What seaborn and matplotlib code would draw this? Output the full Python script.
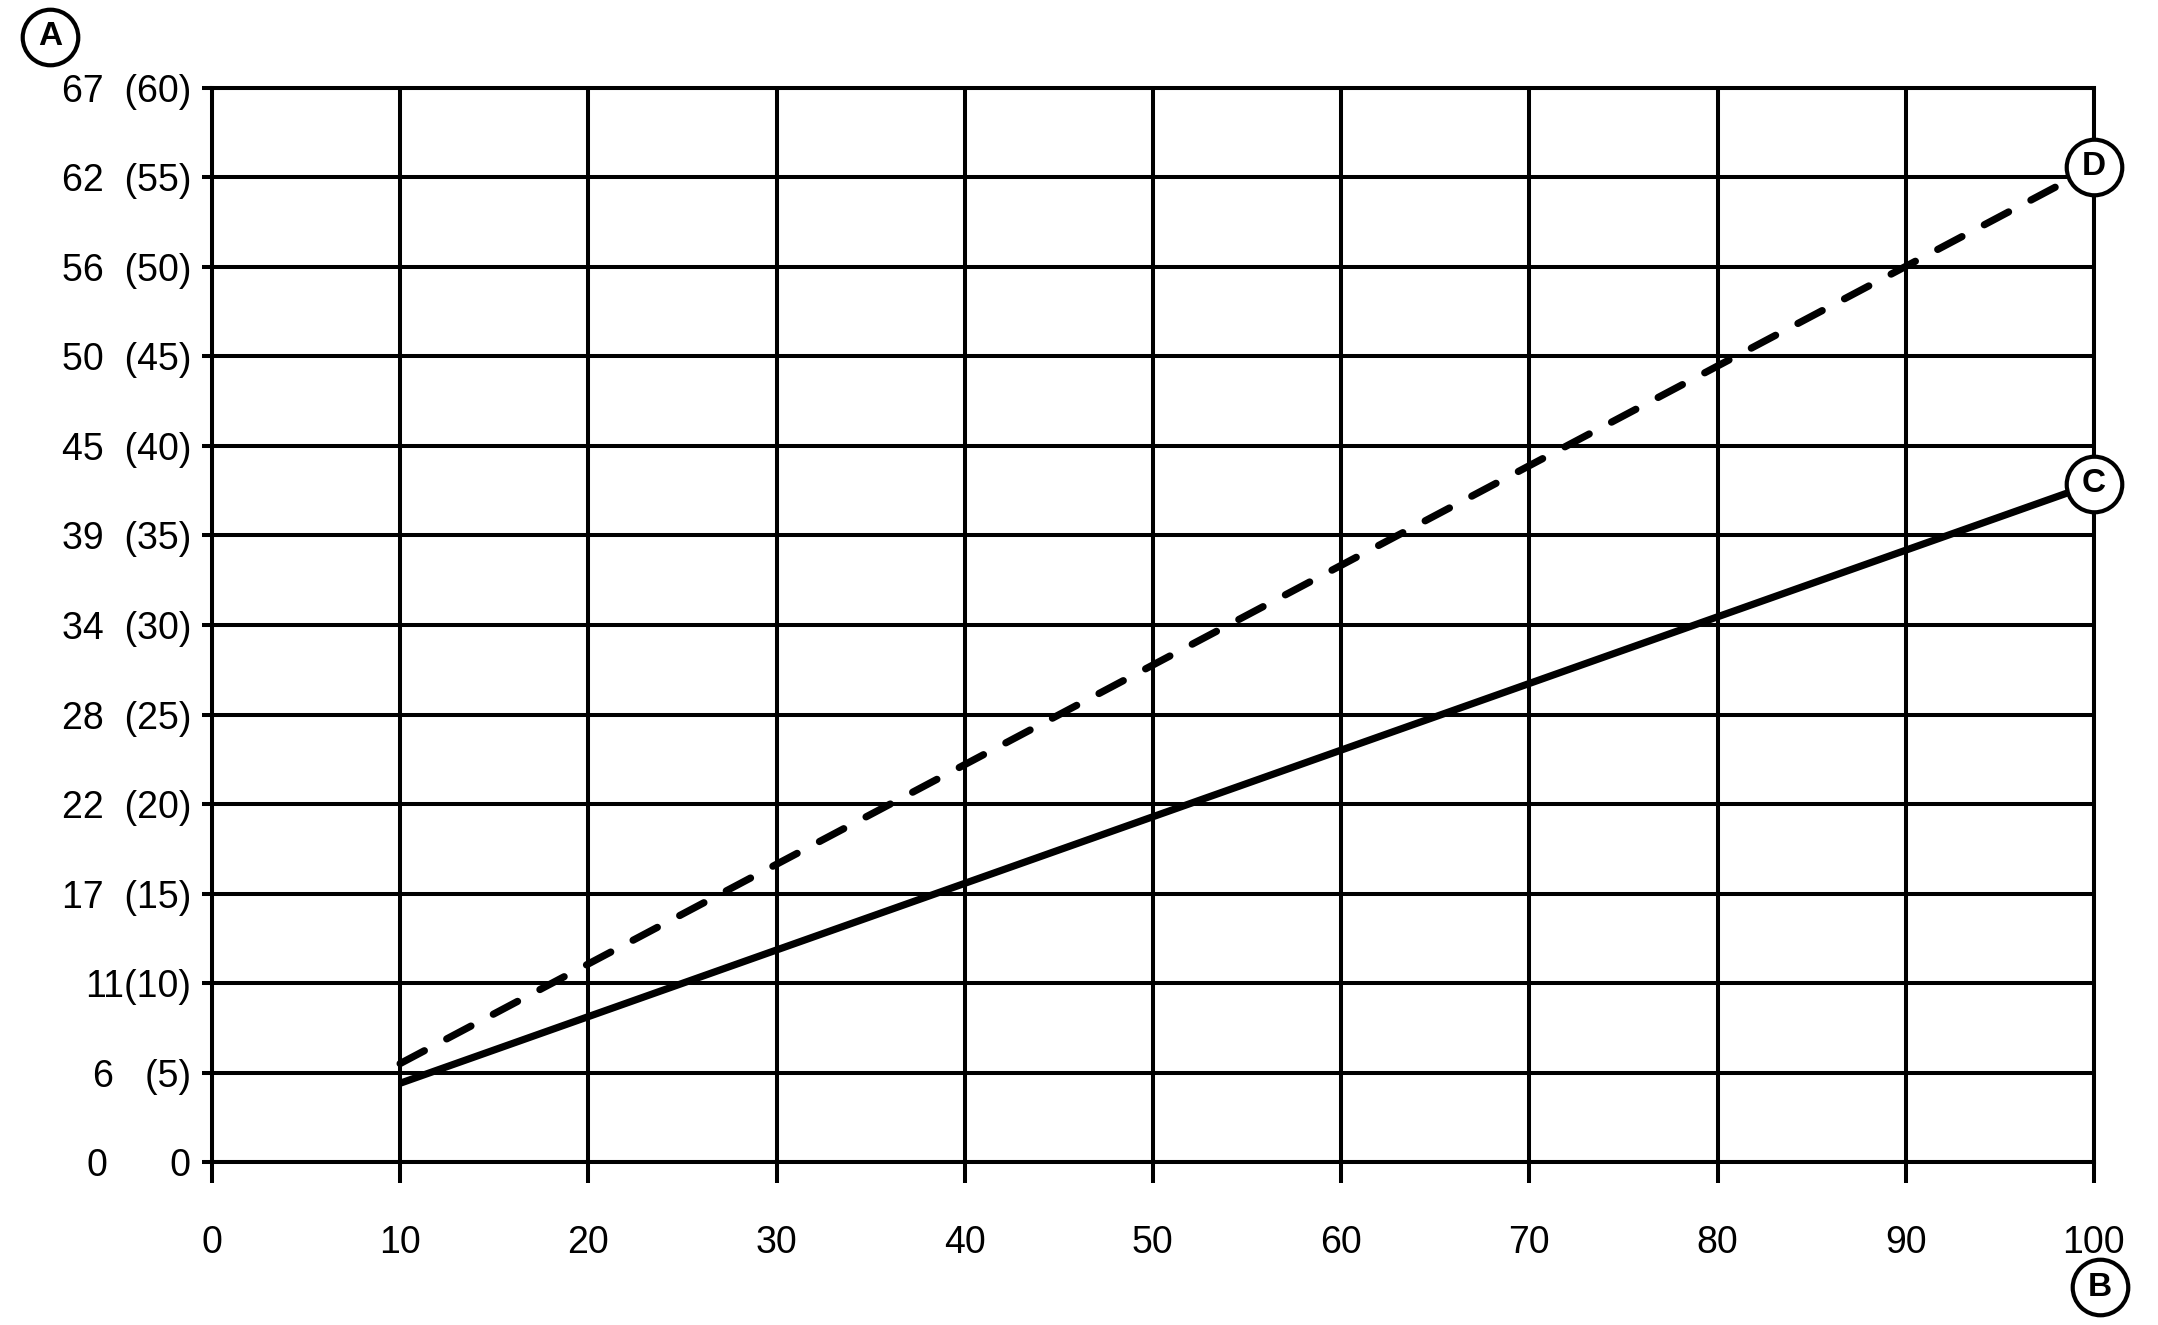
import pandas as pd
import seaborn as sns
import matplotlib.pyplot as plt

# values (y in the bracketed unit)
x_vals = [10, 100]
curve_c = [4.4, 37.9]
curve_d = [5.5, 55.6]

x_ticks = [0, 10, 20, 30, 40, 50, 60, 70, 80, 90, 100]
y_ticks = [0, 5, 10, 15, 20, 25, 30, 35, 40, 45, 50, 55, 60]
y_labels = ["0      0", "6   (5)", "11(10)", "17  (15)", "22  (20)", "28  (25)", "34  (30)",
            "39  (35)", "45  (40)", "50  (45)", "56  (50)", "62  (55)", "67  (60)"]

df = pd.DataFrame({
    "x": x_vals + x_vals,
    "y": curve_c + curve_d,
    "curve": ["C"] * len(x_vals) + ["D"] * len(x_vals),
})

sns.set_style("white")
plt.rcParams["font.family"] = ["Liberation Sans", "DejaVu Sans"]

fig = plt.figure(figsize=(21.58, 13.25), dpi=100)
ax = fig.add_axes([0.0982, 0.1230, 0.8721, 0.8106])

sns.lineplot(data=df, x="x", y="y", style="curve", dashes={"C": "", "D": (3.8, 3.5)},
             color="black", linewidth=5.2, legend=False, ax=ax,
             dash_capstyle="round", solid_capstyle="butt", zorder=3)

ax.set_xlim(0, 100)
ax.set_ylim(0, 60)
ax.set_xticks(x_ticks)
ax.set_yticks(y_ticks)
ax.set_yticklabels(y_labels)
ax.set_xlabel("")
ax.set_ylabel("")
ax.set_axisbelow(True)
ax.grid(True, color="black", linewidth=2.9)
for s in ax.spines.values():
    s.set_color("black")
    s.set_linewidth(2.9)
ax.tick_params(axis="x", length=15, width=2.9, pad=30, labelsize=27, colors="black", direction="out")
ax.tick_params(axis="y", length=7, width=2.9, pad=8, labelsize=27, colors="black", direction="out")
ax.xaxis.set_ticks_position("bottom")
ax.yaxis.set_ticks_position("left")

# circled callouts
def callout(x, y, letter, trans):
    ax.plot([x], [y], marker="o", markersize=40, markerfacecolor="white",
            markeredgecolor="black", markeredgewidth=3, transform=trans,
            clip_on=False, zorder=5)
    ax.text(x, y, letter, transform=trans, ha="center", va="center",
            fontsize=24, fontweight="bold", color="black", zorder=6, clip_on=False)

callout(x_vals[-1], curve_d[-1], "D", ax.transData)
callout(x_vals[-1], curve_c[-1], "C", ax.transData)
callout(-0.0861, 1.0475, "A", ax.transAxes)
callout(1.0032, -0.1164, "B", ax.transAxes)

fig.savefig("out.png", dpi=100)
